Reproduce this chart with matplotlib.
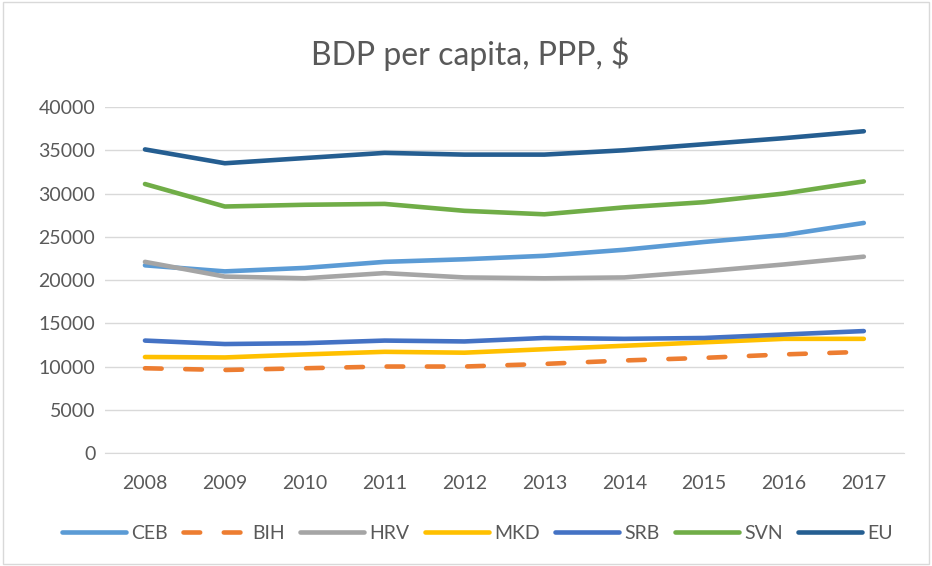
import numpy as np
import matplotlib
matplotlib.use('Agg')
import matplotlib.pyplot as plt
from matplotlib.patches import Rectangle

years = ['2008', '2009', '2010', '2011', '2012', '2013', '2014', '2015', '2016', '2017']

CEB = [21700, 21000, 21400, 22100, 22400, 22800, 23500, 24400, 25200, 26600]
BIH = [9800, 9600, 9800, 10000, 10000, 10300, 10700, 11000, 11400, 11700]
HRV = [22100, 20400, 20200, 20800, 20300, 20200, 20300, 21000, 21800, 22700]
MKD = [11100, 11050, 11400, 11700, 11600, 12000, 12400, 12800, 13200, 13200]
SRB = [13000, 12600, 12700, 13000, 12900, 13300, 13200, 13300, 13700, 14100]
SVN = [31100, 28500, 28700, 28800, 28000, 27600, 28400, 29000, 30000, 31400]
EU = [35100, 33500, 34100, 34700, 34500, 34500, 35000, 35700, 36400, 37200]

plt.rcParams['font.family'] = ['Lato', 'DejaVu Sans']
plt.rcParams['lines.scale_dashes'] = False

fig = plt.figure(figsize=(9.32, 5.66), dpi=100)
fig.patches.append(Rectangle((0.003, 0.003), 0.994, 0.994, transform=fig.transFigure,
                             fill=False, edgecolor='#D9D9D9', linewidth=1))
ax = fig.add_axes([0.1127, 0.1996, 0.857, 0.6113])

x = np.arange(len(years))
lw = 3.3
ax.plot(x, CEB, color='#5B9BD5', lw=lw, solid_capstyle='round', label='CEB')
ax.plot(x, BIH, color='#ED7D31', lw=lw, dashes=(12, 17), dash_capstyle='round', label='BIH')
ax.plot(x, HRV, color='#A5A5A5', lw=lw, solid_capstyle='round', label='HRV')
ax.plot(x, MKD, color='#FFC000', lw=lw, solid_capstyle='round', label='MKD')
ax.plot(x, SRB, color='#4472C4', lw=lw, solid_capstyle='round', label='SRB')
ax.plot(x, SVN, color='#70AD47', lw=lw, solid_capstyle='round', label='SVN')
ax.plot(x, EU, color='#255E91', lw=lw, solid_capstyle='round', label='EU')

ax.set_xlim(-0.5, len(years) - 0.5)
ax.set_ylim(0, 40000)
ax.set_yticks(np.arange(0, 40001, 5000))
ax.set_xticks(x)
ax.set_xticklabels(years)
ax.grid(axis='y', color='#D9D9D9', lw=1)
ax.set_axisbelow(True)
for s in ['top', 'right', 'left']:
    ax.spines[s].set_visible(False)
ax.spines['bottom'].set_color('#D9D9D9')
ax.tick_params(length=0, labelsize=14, colors='#595959')
ax.tick_params(axis='x', pad=16)
ax.tick_params(axis='y', pad=7)

fig.text(0.505, 0.905, 'BDP per capita, PPP, $', ha='center', va='center',
         fontsize=23, color='#595959')

fig.legend(loc='center', bbox_to_anchor=(0.512, 0.058), ncol=7, frameon=False,
           fontsize=14, labelcolor='#595959', handlelength=3.3, handletextpad=0.25,
           columnspacing=0.8)

plt.savefig('out.png', dpi=100)
